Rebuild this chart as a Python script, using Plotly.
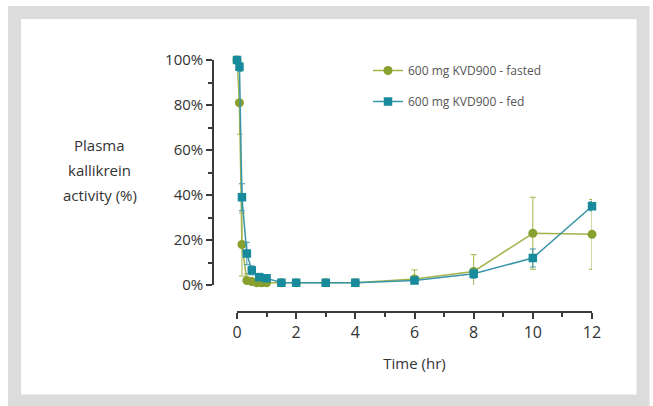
import plotly.graph_objects as go

W, H = 653, 406

# Data
time_fasted = [0, 0.083, 0.167, 0.333, 0.5, 0.667, 0.833, 1, 1.5, 2, 3, 4, 6, 8, 10, 12]
act_fasted = [100, 81, 18, 2, 1.5, 1, 1, 1, 1, 1, 1, 1, 2.7, 6, 23, 22.5]
err_fasted = [0, 14, 14, 3, 1, 0.5, 0.5, 0.5, 0.3, 0.3, 0.3, 0.3, 4, 7.5, 16, 15.5]

time_fed = [0, 0.083, 0.167, 0.333, 0.5, 0.75, 1, 1.5, 2, 3, 4, 6, 8, 10, 12]
act_fed = [100, 97, 39, 14, 6.5, 3.5, 3, 1, 1, 1, 1, 2, 5, 12, 35]
err_fed = [0, 2, 6, 5, 2, 1, 1, 0.3, 0.3, 0.3, 0.3, 0.8, 2, 4, 2]

x_ticks = [0, 2, 4, 6, 8, 10, 12]
y_ticks = [0, 20, 40, 60, 80, 100]
y_tick_labels = ["0%", "20%", "40%", "60%", "80%", "100%"]
y_title_lines = ["Plasma", "kallikrein", "activity (%)"]

GREEN_LINE = "#a3b44c"
GREEN_MK = "#87a02e"
TEAL_LINE = "#3a95a8"
TEAL_MK = "#178a9c"
AX = "#3a3a3a"
FONT = "Open Sans"
TXT = "#333333"

fig = go.Figure()
fig.add_trace(go.Scatter(
    x=time_fasted, y=act_fasted, mode="lines+markers",
    name="600 mg KVD900 - fasted", legendgroup="a",
    line=dict(color=GREEN_LINE, width=1.5),
    marker=dict(symbol="circle", size=9, color=GREEN_MK),
    error_y=dict(type="data", array=err_fasted, color=GREEN_LINE, thickness=1, width=3),
    cliponaxis=False,
))
fig.add_trace(go.Scatter(
    x=time_fed, y=act_fed, mode="lines+markers",
    name="600 mg KVD900 - fed", legendgroup="b",
    line=dict(color=TEAL_LINE, width=1.5),
    marker=dict(symbol="square", size=8.5, color=TEAL_MK),
    error_y=dict(type="data", array=err_fed, color=TEAL_LINE, thickness=1, width=3),
    cliponaxis=False,
))

annotations = []
for i, line in enumerate(y_title_lines):
    annotations.append(dict(
        text=line, xref="paper", yref="paper",
        x=100 / W, y=1 - (145 + 25 * i) / H, xanchor="center", yanchor="middle",
        showarrow=False, font=dict(size=15, family=FONT, color=TXT),
    ))

fig.update_layout(
    width=W, height=H, autosize=False,
    margin=dict(l=0, r=0, t=0, b=0, pad=0, autoexpand=False),
    paper_bgcolor="white", plot_bgcolor="rgba(0,0,0,0)",
    font=dict(family=FONT, color=TXT, size=14),
    xaxis=dict(
        domain=[237 / W, 592 / W], range=[0, 12], anchor="free", position=1 - 312 / H,
        automargin=False,
        showgrid=False, zeroline=False, showline=True, linecolor=AX, linewidth=1.5,
        tickvals=x_ticks, ticks="outside", ticklen=6, tickwidth=1.5, tickcolor=AX,
        minor=dict(dtick=1, tick0=1, ticks="outside", ticklen=4, tickwidth=1.5, tickcolor=AX),
        tickfont=dict(size=16, family=FONT, color=TXT),
        title=dict(text="Time (hr)", font=dict(size=15, family=FONT, color=TXT), standoff=16),
    ),
    yaxis=dict(
        domain=[1 - 285 / H, 1 - 60 / H], range=[0, 100], anchor="free", position=213 / W,
        automargin=False,
        showgrid=False, zeroline=False, showline=True, linecolor=AX, linewidth=1.5,
        tickvals=y_ticks, ticktext=y_tick_labels, ticks="outside", ticklen=6, tickwidth=1.5, tickcolor=AX,
        minor=dict(dtick=10, tick0=10, ticks="outside", ticklen=4, tickwidth=1.5, tickcolor=AX),
        tickfont=dict(size=15, family=FONT, color=TXT),
    ),
    legend=dict(
        x=368 / W, y=1 - 56 / H, xanchor="left", yanchor="top",
        bgcolor="rgba(0,0,0,0)", font=dict(size=12, family=FONT, color="#555555"),
        tracegroupgap=12, traceorder="grouped",
    ),
    showlegend=True,
    shapes=[dict(
        type="rect", xref="paper", yref="paper",
        x0=14.5 / W, x1=643 / W, y0=1 - 401 / H, y1=1 - 12.5 / H,
        line=dict(color="#dcdcdc", width=13), layer="below",
    )],
    annotations=annotations,
)

fig.write_html(
    "out.html",
    config={"displayModeBar": False},
    post_script="document.body.style.margin='0';document.body.style.padding='0';",
)
